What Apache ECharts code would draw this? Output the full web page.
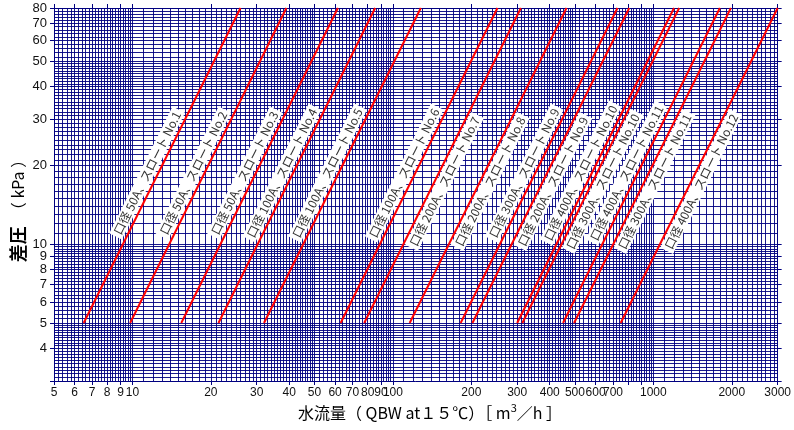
<!DOCTYPE html>
<html><head><meta charset="utf-8">
<script src="https://cdn.jsdelivr.net/npm/echarts@6/dist/echarts.min.js"></script>
<style>html,body{margin:0;padding:0;background:#fff}#c{width:794px;height:430px}</style>
</head><body><div id="c"></div>
<script>
// ---- data ----
const xLabelValues = [5,6,7,8,9,10,20,30,40,50,60,70,80,90,100,200,300,400,500,600,700,1000,2000,3000];
const xTickValues  = [5,6,7,8,9,10,20,30,40,50,60,70,80,90,100,200,300,400,500,600,700,800,900,1000,2000,3000];
const yLabelValues = [4,5,6,7,8,9,10,20,30,40,50,60,70,80];
const yTickValues  = [3,4,5,6,7,8,9,10,20,30,40,50,60,70,80];
const xRange = [5, 3000];
const yRange = [3, 80];

const curveNames = [
  '口径 50A、スロート No.1','口径 50A、スロート No.2','口径 50A、スロート No.3',
  '口径 100A、スロート No.4','口径 100A、スロート No.5','口径 100A、スロート No.6',
  '口径 200A、スロート No.7','口径 200A、スロート No.8','口径 300A、スロート No.9',
  '口径 200A、スロート No.9','口径 400A、スロート No.10','口径 300A、スロート No.10',
  '口径 400A、スロート No.11','口径 300A、スロート No.11','口径 400A、スロート No.12'
];
const pressureEnds = [5, 80];                     // kPa at the two ends of each curve
const flowAtLow  = [6.5, 9.8, 15.4, 21.4, 32, 63, 77.6, 116, 182, 202, 300, 314, 450, 496, 749];
const flowAtHigh = [26, 39, 61.5, 85.5, 128, 252, 310, 464, 728, 808, 1200, 1256, 1800, 1984, 3000];
const labelPressure = [18,18,18,18,18,18,18,18,18,18,18,18,18,18,18];
const labelSide     = [1,1,1,1,1,1,-1,-1,1,-1,1,-1,1,-1,-1];   // 1 = left of curve, -1 = right

// grid-line pattern inside a decade: [from, to, step] on the mantissa
const gridPattern = [[1,5,0.1],[5,10,0.2]];

function gridValues(lo, hi){
  const out = [];
  for (let e = Math.floor(Math.log10(lo)); Math.pow(10,e) <= hi; e++){
    const d = Math.pow(10,e);
    gridPattern.forEach(([a,b,s])=>{
      const n = Math.round((b-a)/s);
      for (let k=0;k<n;k++){
        const v = +( (a + k*s) * d ).toPrecision(6);
        if (v > lo && v < hi) out.push(v);
      }
    });
  }
  return out;
}

const NAVY = '#000080';
const chart = echarts.init(document.getElementById('c'), null, {renderer:'canvas'});

const gridMarks = gridValues(xRange[0], xRange[1]).map(v=>({xAxis:v}))
  .concat(gridValues(yRange[0], yRange[1]).map(v=>({yAxis:v})));

const axisCommon = {
  type:'log', logBase:10,
  splitLine:{show:false}, minorTick:{show:false}, minorSplitLine:{show:false},
  axisLine:{show:true, lineStyle:{color:NAVY, width:1}},
};

const series = [{
  name:'grid', type:'line', data:[], z:1, silent:true, animation:false,
  markLine:{
    silent:true, symbol:['none','none'], animation:false, z:1,
    label:{show:false}, emphasis:{disabled:true},
    lineStyle:{color:NAVY, width:1, type:'solid', opacity:0.9},
    data: gridMarks
  }
}];

curveNames.forEach((nm,i)=>{
  series.push({
    name:nm, type:'line', z:3, animation:false, showSymbol:false, symbol:'none',
    lineStyle:{color:'#ff0000', width:2}, clip:true,
    data:[[flowAtLow[i], pressureEnds[0]], [flowAtHigh[i], pressureEnds[1]]]
  });
});

series.push({
  name:'labels', type:'custom', coordinateSystem:'cartesian2d', z:4, animation:false, clip:false,
  encode:{x:0, y:2},
  data: curveNames.map((nm,i)=>[flowAtLow[i], flowAtHigh[i], labelPressure[i], labelSide[i]]),
  renderItem:function(params, api){
    const q0 = api.value(0), q1 = api.value(1), lp = api.value(2), side = api.value(3);
    const t = (Math.log(lp)-Math.log(pressureEnds[0]))/(Math.log(pressureEnds[1])-Math.log(pressureEnds[0]));
    const q = Math.exp(Math.log(q0) + t*(Math.log(q1)-Math.log(q0)));
    const p  = api.coord([q, lp]);
    const a  = api.coord([q0, pressureEnds[0]]);
    const b  = api.coord([q1, pressureEnds[1]]);
    let dx = b[0]-a[0], dy = b[1]-a[1];
    const L = Math.hypot(dx,dy); dx/=L; dy/=L;
    const nx = dy, ny = -dx;          // normal pointing to upper-left
    const off = side > 0 ? 10 : -9;
    return {
      type:'text',
      x: p[0] + nx*off, y: p[1] + ny*off,
      rotation: Math.atan2(-dy, dx),
      style:{
        text: curveNames[params.dataIndex],
        font:'12px "Noto Sans CJK JP"',
        fill:'#333', align:'center', verticalAlign:'middle',
        backgroundColor:'#ffffff', padding:[1,3,1,3]
      }
    };
  }
});

chart.setOption({
  animation:false,
  backgroundColor:'#ffffff',
  grid:{left:54, top:8, width:728, height:373, containLabel:false},
  xAxis:[
    Object.assign({}, axisCommon, {
      position:'bottom', min:xRange[0], max:xRange[1],
      axisTick:{show:true, inside:false, length:4, lineStyle:{color:NAVY}, customValues:xTickValues},
      axisLabel:{show:true, margin:6, color:'#111', fontSize:12, fontFamily:'"Liberation Sans", Arial, sans-serif',
        customValues:xLabelValues, formatter:v=>String(Math.round(v))}
    }),
    Object.assign({}, axisCommon, {
      position:'top', min:xRange[0], max:xRange[1],
      axisTick:{show:true, inside:false, length:4, lineStyle:{color:NAVY}, customValues:xTickValues},
      axisLabel:{show:false}
    })
  ],
  yAxis:[
    Object.assign({}, axisCommon, {
      position:'left', min:yRange[0], max:yRange[1],
      axisTick:{show:true, inside:false, length:4, lineStyle:{color:NAVY}, customValues:yTickValues},
      axisLabel:{show:true, margin:7, color:'#111', fontSize:13, fontFamily:'"Liberation Sans", Arial, sans-serif',
        customValues:yLabelValues, formatter:v=>String(Math.round(v))}
    }),
    Object.assign({}, axisCommon, {
      position:'right', min:yRange[0], max:yRange[1],
      axisTick:{show:true, inside:false, length:4, lineStyle:{color:NAVY}, customValues:yTickValues},
      axisLabel:{show:false}
    })
  ],
  graphic:[
    {type:'text', x:430, y:413, silent:true, style:{
      text:'水流量（ QBW at１５℃）［ m{sup|3}／h ］',
      font:'16px "Noto Sans CJK JP"', fill:'#000', align:'center', verticalAlign:'middle',
      rich:{sup:{font:'11px "Noto Sans CJK JP"', fill:'#000', verticalAlign:'top', lineHeight:22}}
    }},
    {type:'text', x:18, y:207, rotation:Math.PI/2, silent:true, style:{
      text:'{b|差圧}　（ kPa ）',
      font:'16px "Noto Sans CJK JP"', fill:'#000', align:'center', verticalAlign:'middle',
      rich:{b:{font:'bold 18px "Noto Sans CJK JP"', fill:'#000'}}
    }}
  ],
  series: series
});
</script></body></html>
